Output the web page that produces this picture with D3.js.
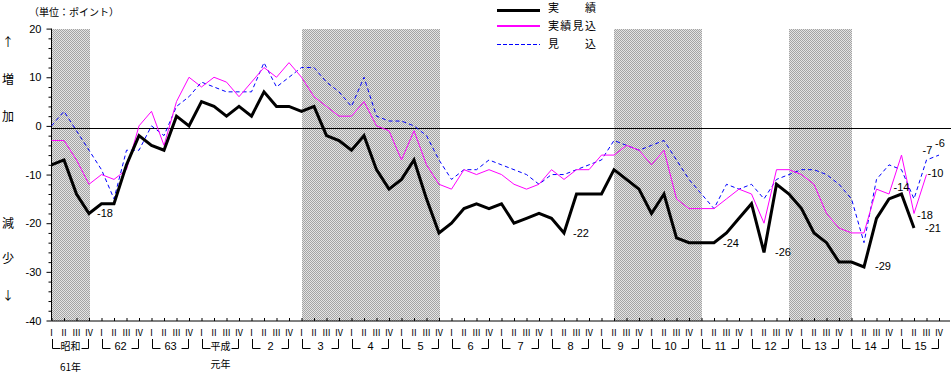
<!DOCTYPE html>
<html>
<head>
<meta charset="utf-8">
<script src="https://cdn.jsdelivr.net/npm/d3@7/dist/d3.min.js"></script>
<style>
  body { margin: 0; background: #fff; }
  svg { display: block; }
</style>
</head>
<body>
<div id="chart"></div>
<script>
// 年ラベル（昭和61年〜平成15年）
const yearLabels = ["昭和", "62", "63", "平成", "2", "3", "4", "5", "6", "7", "8", "9", "10", "11", "12", "13", "14", "15"];
const yearSubLabels = ["61年", "", "", "元年", "", "", "", "", "", "", "", "", "", "", "", "", "", ""];
const quarterLabels = ["Ⅰ", "Ⅱ", "Ⅲ", "Ⅳ"];
const yTicks = [20, 10, 0, -10, -20, -30, -40];

// 実績
const jisseki = [
  -8, -7, -14, -18, -16, -16, -8, -2, -4, -5, 2, 0, 5, 4, 2, 4, 2, 7,
  4, 4, 3, 4, -2, -3, -5, -2, -9, -13, -11, -7, -15, -22, -20, -17, -16, -17,
  -16, -20, -19, -18, -19, -22, -14, -14, -14, -9, -11, -13, -18, -14, -23, -24,
  -24, -24, -22, -19, -16, -26, -12, -14, -17, -22, -24, -28, -28, -29, -19, -15,
  -14, -21
];
// 実績見込
const jissekiMikomi = [
  -3, -3, -7, -12, -10, -11, -9, 0, 3, -4, 5, 10, 8, 10, 9, 6, 9, 12,
  10, 13, 10, 6, 4, 2, 2, 5, 0, -1, -7, -1, -8, -12, -13, -9, -10, -9,
  -10, -12, -13, -12, -9, -11, -9, -9, -6, -6, -4, -5, -8, -5, -15, -17,
  -17, -17, -15, -13, -14, -20, -9, -9, -10, -12, -18, -21, -22, -22, -13, -14,
  -6, -18, -10
];
// 見込
const mikomi = [
  0, 3, -1, -5, -9, -15, -5, -5, 0, -2, 4, 6, 9, 8, 7, 7, 7, 13,
  8, 10, 12, 12, 9, 7, 4, 10, 2, 1, 1, 0, -2, -7, -11, -9, -9, -7,
  -8, -9, -10, -12, -10, -10, -9, -8, -7, -3, -4, -5, -4, -3, -7, -11,
  -14, -17, -12, -13, -12, -15, -11, -10, -9, -9, -10, -12, -15, -24, -11, -8,
  -9, -15, -7, -6
];

// 景気後退期（四半期の通し番号：開始, 終了）
const recessions = [[0, 3], [20, 31], [45, 52], [59, 64]];

// 数値ラベルを付ける四半期
const labelledJisseki = [3, 41, 53, 57, 65, 68, 69];
const labelledJissekiMikomi = [69, 70];
const labelledMikomi = [70, 71];

const width = 951, height = 373;
const jpFont = "'Noto Sans CJK JP', sans-serif";
const numFont = "'Liberation Sans', Arial, sans-serif";

const quarters = d3.range(yearLabels.length * 4);

const x = d3.scalePoint()
  .domain(quarters)
  .range([51.5, 51.5 + 12.5 * (quarters.length - 1)]);

const y = d3.scaleLinear()
  .domain([-40, 20])
  .range([320.5, 28.6]);

const svg = d3.select("#chart")
  .append("svg")
  .attr("width", width)
  .attr("height", height)
  .attr("viewBox", [0, 0, width, height]);

// 網掛けパターン
const pat = svg.append("defs").append("pattern")
  .attr("id", "mesh")
  .attr("patternUnits", "userSpaceOnUse")
  .attr("width", 2).attr("height", 2);
pat.append("rect").attr("width", 2).attr("height", 2).attr("fill", "#e4e4e4");
pat.append("rect").attr("width", 1).attr("height", 1).attr("fill", "#a4a4a4");
pat.append("rect").attr("x", 1).attr("y", 1).attr("width", 1).attr("height", 1).attr("fill", "#a4a4a4");

// 景気後退期の網掛け
svg.append("g")
  .selectAll("rect")
  .data(recessions)
  .join("rect")
    .attr("x", d => Math.round(x(d[0])))
    .attr("y", Math.round(y(20)))
    .attr("width", d => Math.round(x(d[1]) - x(d[0])))
    .attr("height", Math.round(y(-40) - y(20)))
    .attr("fill", "url(#mesh)");

// Y軸
const yAxis = svg.append("g")
  .attr("transform", "translate(51.5,0)")
  .call(d3.axisLeft(y)
    .tickValues(d3.range(-40, 21, 2))
    .tickSize(3)
    .tickPadding(7)
    .tickFormat(d => yTicks.includes(d) ? d : ""));
yAxis.select(".domain").attr("d", `M0,${y(20)}V${y(-40)}`).attr("stroke", "#000");
yAxis.selectAll(".tick line").attr("stroke", "#000");
yAxis.selectAll(".tick").filter(d => yTicks.includes(d)).select("line").attr("x2", -5);
yAxis.selectAll("text")
  .attr("font-family", numFont)
  .attr("font-size", 11)
  .attr("fill", "#000");

// X軸
const xAxis = svg.append("g")
  .attr("transform", `translate(0,${y(-40) + 0.5})`)
  .call(d3.axisBottom(x).tickSize(-3).tickFormat(""));
xAxis.select(".domain").attr("d", "M51.5,0H950").attr("stroke", "#000");
xAxis.selectAll(".tick line").attr("stroke", "#000");

// ゼロ線
svg.append("line")
  .attr("x1", 51.5).attr("x2", 951)
  .attr("y1", Math.floor(y(0) + 3) + 0.5)
  .attr("y2", Math.floor(y(0) + 3) + 0.5)
  .attr("stroke", "#000");

// 系列
const line = d3.line()
  .x((d, i) => x(i))
  .y(d => y(d));

svg.append("path")
  .attr("d", line(mikomi))
  .attr("fill", "none")
  .attr("stroke", "#0000ff")
  .attr("stroke-width", 1)
  .attr("stroke-dasharray", "4,3");

svg.append("path")
  .attr("d", line(jissekiMikomi))
  .attr("fill", "none")
  .attr("stroke", "#ff00ff")
  .attr("stroke-width", 1);

svg.append("path")
  .attr("d", line(jisseki))
  .attr("fill", "none")
  .attr("stroke", "#000")
  .attr("stroke-width", 3)
  .attr("stroke-linejoin", "miter");

// 数値ラベル
const labelOffsets = {
  jisseki: { 3: [8, 0], 41: [9, 0], 53: [9, 0], 57: [11, 0], 65: [11, -1], 68: [-8, -7], 69: [11, 0] },
  jissekiMikomi: { 69: [3, 2], 70: [1, -1] },
  mikomi: { 70: [-4, -10], 71: [-4, -12] }
};
const labelItems = [
  ...labelledJisseki.map(i => ({ key: "jisseki", i, v: jisseki[i] })),
  ...labelledJissekiMikomi.map(i => ({ key: "jissekiMikomi", i, v: jissekiMikomi[i] })),
  ...labelledMikomi.map(i => ({ key: "mikomi", i, v: mikomi[i] }))
];
svg.append("g")
  .attr("font-family", numFont)
  .attr("font-size", 11)
  .selectAll("text")
  .data(labelItems)
  .join("text")
    .attr("x", d => x(d.i) + labelOffsets[d.key][d.i][0])
    .attr("y", d => y(d.v) + labelOffsets[d.key][d.i][1])
    .attr("dy", "0.35em")
    .text(d => d.v);

// X軸ラベル：四半期（不透明度で LCD 色にじみを抑える）
const qg = svg.append("g")
  .attr("font-family", jpFont)
  .attr("font-size", 9)
  .attr("opacity", 0.99)
  .attr("text-anchor", "middle");
qg.selectAll("text")
  .data(quarters)
  .join("text")
    .attr("x", d => x(d))
    .attr("y", 333)
    .attr("dy", "0.35em")
    .text(d => quarterLabels[d % 4]);

// X軸ラベル：年と括弧
const yg = svg.append("g");
yearLabels.forEach((lab, k) => {
  const x0 = Math.round(x(k * 4)) + 0.5;
  const x1 = Math.round(x(k * 4 + 3)) - 0.5;
  yg.append("path")
    .attr("d", `M${x0},339V348.5H${x0 + 8}M${x1 - 7},348.5H${x1}V339`)
    .attr("fill", "none")
    .attr("stroke", "#000");
  yg.append("text")
    .attr("x", (x0 + x1) / 2)
    .attr("y", 346)
    .attr("dy", "0.35em")
    .attr("text-anchor", "middle")
    .attr("font-family", /\d/.test(lab) ? numFont : jpFont)
    .attr("font-size", /\d/.test(lab) ? 11 : 10)
    .text(lab);
  if (yearSubLabels[k]) {
    yg.append("text")
      .attr("x", (x0 + x1) / 2)
      .attr("y", yearSubLabels[k] === "元年" ? 364 : 367)
      .attr("dy", "0.35em")
      .attr("text-anchor", "middle")
      .attr("font-family", jpFont)
      .attr("font-size", 10)
      .text(yearSubLabels[k]);
  }
});

// 単位
svg.append("text")
  .attr("x", 29).attr("y", 12)
  .attr("dy", "0.35em")
  .attr("font-family", jpFont)
  .attr("font-size", 10)
  .text("（単位：ポイント）");

// 増加・減少
const sideText = [["↑", 43], ["増", 80], ["加", 117], ["減", 224], ["少", 259], ["↓", 296]];
svg.append("g")
  .attr("font-family", jpFont)
  .attr("font-size", 12)
  .attr("text-anchor", "middle")
  .selectAll("text")
  .data(sideText)
  .join("text")
    .attr("x", 8)
    .attr("y", d => d[1])
    .attr("dy", "0.35em")
    .text(d => d[0]);

// 凡例
const legend = [
  { name: "実　　績", color: "#000000", w: 3, dash: "none" },
  { name: "実績見込", color: "#ff00ff", w: 2, dash: "none" },
  { name: "見　　込", color: "#0000ff", w: 1, dash: "4,2" }
];
const legendLineY = [10.5, 26, 44.5];
const legendTextY = [8, 26, 44];
legend.forEach((d, i) => {
  svg.append("line")
    .attr("x1", 497).attr("x2", 540)
    .attr("y1", legendLineY[i]).attr("y2", legendLineY[i])
    .attr("stroke", d.color)
    .attr("stroke-width", d.w)
    .attr("stroke-dasharray", d.dash);
  svg.append("text")
    .attr("x", 548)
    .attr("y", legendTextY[i])
    .attr("dy", "0.35em")
    .attr("font-family", jpFont)
    .attr("font-size", 11)
    .attr("letter-spacing", 1.3)
    .text(d.name);
});
</script>
</body>
</html>
